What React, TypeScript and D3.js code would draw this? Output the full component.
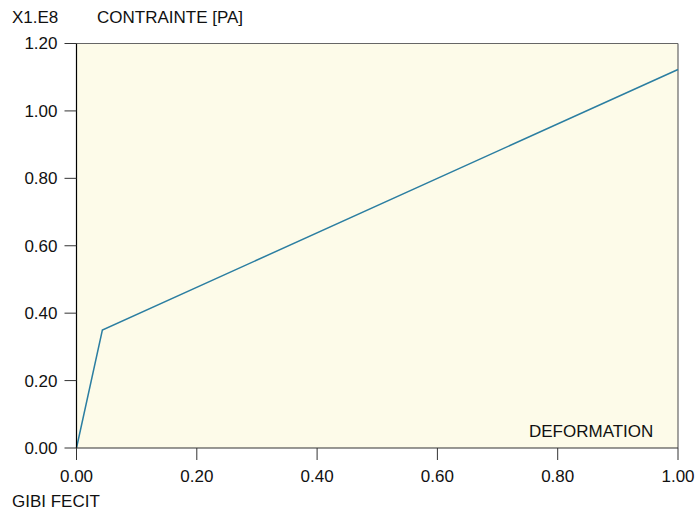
import React from "react";
import * as d3 from "d3";

const strainValues = [0, 0.043, 1.0];
const stressValues = [0, 0.35, 1.123];
const xTicks = [0, 0.2, 0.4, 0.6, 0.8, 1.0];
const yTicks = [0, 0.2, 0.4, 0.6, 0.8, 1.0, 1.2];

const W = 696, H = 512;
const L = 76.5, R = 678, T = 43.5, B = 448;

export default function App() {
  const x = d3.scaleLinear().domain([0, 1]).range([L, R]);
  const y = d3.scaleLinear().domain([0, 1.2]).range([B, T]);
  const pts = strainValues.map((v, i) => [v, stressValues[i]] as [number, number]);
  const line = d3.line<[number, number]>().x(d => x(d[0])).y(d => y(d[1]));
  const font = "'Liberation Sans', Arial, sans-serif";
  const fs = 17;
  return (
    <svg width={W} height={H} style={{ position: "absolute", left: 0, top: 0, background: "#fff" }} fontFamily={font}>
      <rect x={L} y={T} width={R - L} height={B - T} fill="#fdfbe9" />
      <line x1={L} x2={R} y1={T} y2={T} stroke="#666" strokeWidth={1.2} />
      <line x1={R} x2={R} y1={T} y2={B} stroke="#666" strokeWidth={1.2} />
      <path d={line(pts) || ""} fill="none" stroke="#2b7ea1" strokeWidth={1.5} />
      <line x1={L} x2={L} y1={T} y2={B} stroke="#000" strokeWidth={1.2} />
      <line x1={L} x2={R} y1={B} y2={B} stroke="#333" strokeWidth={1.2} />
      {yTicks.map(t => (
        <g key={"y" + t}>
          <line x1={L - 12} x2={L} y1={y(t)} y2={y(t)} stroke="#333" strokeWidth={1} />
          <text x={L - 19} y={y(t)} dy="0.35em" textAnchor="end" fontSize={fs} fill="#111">{t.toFixed(2)}</text>
        </g>
      ))}
      {xTicks.map(t => (
        <g key={"x" + t}>
          <line x1={x(t)} x2={x(t)} y1={B} y2={B + 12} stroke="#333" strokeWidth={1} />
          <text x={x(t)} y={482} textAnchor="middle" fontSize={fs} fill="#111">{t.toFixed(2)}</text>
        </g>
      ))}
      <text x={12} y={23} fontSize={fs} fill="#111">X1.E8</text>
      <text x={97} y={23} fontSize={fs} fill="#111">CONTRAINTE [PA]</text>
      <text x={529} y={437} fontSize={fs} fill="#111">DEFORMATION</text>
      <text x={12} y={507} fontSize={fs} fill="#111">GIBI FECIT</text>
    </svg>
  );
}
